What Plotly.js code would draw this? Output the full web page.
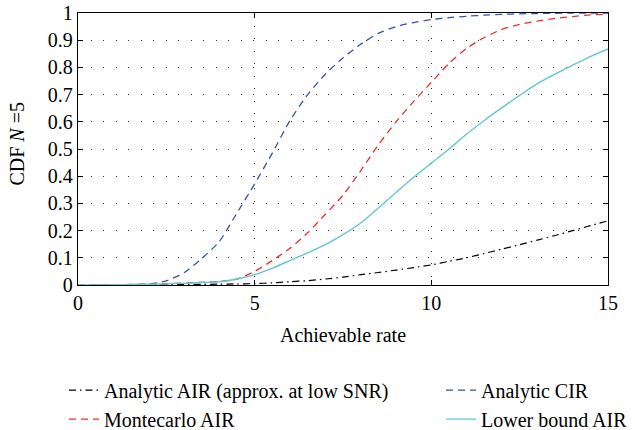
<!DOCTYPE html>
<html>
<head>
<meta charset="utf-8">
<script src="https://cdn.plot.ly/plotly-3.0.1.min.js"></script>
<style>html,body{margin:0;padding:0;background:#fff;}#chart{width:635px;height:430px;}</style>
</head>
<body>
<div id="chart"></div>
<script>
var rate = [0, 0.5, 1, 1.5, 2, 2.5, 3, 3.5, 4, 4.5, 5, 5.5, 6, 6.5, 7, 7.5, 8, 8.5, 9, 9.5, 10, 10.5, 11, 11.5, 12, 12.5, 13, 13.5, 14, 14.5, 15];
var analyticAIR = [0, 0, 0, 0, 0.001, 0.001, 0.002, 0.002, 0.003, 0.004, 0.005, 0.008, 0.012, 0.016, 0.022, 0.029, 0.038, 0.046, 0.055, 0.064, 0.074, 0.087, 0.100, 0.116, 0.132, 0.148, 0.165, 0.182, 0.200, 0.218, 0.236];
var analyticCIR = [0, 0, 0, 0.001, 0.004, 0.015, 0.045, 0.097, 0.160, 0.265, 0.372, 0.485, 0.605, 0.700, 0.775, 0.835, 0.885, 0.925, 0.950, 0.965, 0.976, 0.983, 0.988, 0.992, 0.995, 0.997, 0.998, 0.999, 1, 1, 1];
var montecarloAIR = [0, 0, 0.001, 0.002, 0.003, 0.005, 0.007, 0.010, 0.013, 0.022, 0.050, 0.090, 0.135, 0.192, 0.260, 0.330, 0.420, 0.515, 0.600, 0.675, 0.745, 0.815, 0.870, 0.910, 0.940, 0.958, 0.970, 0.980, 0.987, 0.993, 0.996];
var lowerBoundAIR = [0, 0, 0.001, 0.002, 0.003, 0.004, 0.006, 0.009, 0.012, 0.022, 0.038, 0.062, 0.090, 0.118, 0.148, 0.185, 0.228, 0.283, 0.340, 0.396, 0.448, 0.500, 0.555, 0.605, 0.652, 0.697, 0.740, 0.775, 0.808, 0.840, 0.868];
var seriesNames = ["Analytic AIR (approx. at low SNR)", "Analytic CIR", "Montecarlo AIR", "Lower bound AIR"];
var xTicks = [0, 5, 10, 15];
var yTicks = [0, 0.1, 0.2, 0.3, 0.4, 0.5, 0.6, 0.7, 0.8, 0.9, 1];
var yTickText = ["0", "0.1", "0.2", "0.3", "0.4", "0.5", "0.6", "0.7", "0.8", "0.9", "1"];
var yTitle = "CDF <i>N</i> =5";
var xTitle = "Achievable rate";

var FONT = "Liberation Serif, Times New Roman, serif";
var FS = 20;

function tr(y, name, color, dash, width, legendId) {
  return {x: rate, y: y, name: name, type: "scatter", mode: "lines",
          line: {color: color, dash: dash, width: width, shape: "spline", smoothing: 0.6},
          legend: legendId, cliponaxis: true};
}

var data = [
  tr(analyticAIR, seriesNames[0], "#000000", "7px,4px,1.5px,4px", 1.2, "legend"),
  tr(analyticCIR, seriesNames[1], "#3352a8", "7px,5px", 1.3, "legend2"),
  tr(montecarloAIR, seriesNames[2], "#ee2c2c", "7px,5px", 1.3, "legend"),
  tr(lowerBoundAIR, seriesNames[3], "#62c6d4", "solid", 1.4, "legend2")
];

function leg(xpx) {
  return {
    orientation: "v", x: xpx / 635, xref: "container", xanchor: "left",
    y: 0.138, yref: "container", yanchor: "top",
    font: {family: FONT, size: FS, color: "#000"},
    bgcolor: "rgba(0,0,0,0)", tracegroupgap: 0
  };
}

var layout = {
  width: 635, height: 430,
  margin: {l: 78, r: 27, t: 13, b: 145, autoexpand: false},
  paper_bgcolor: "#fff", plot_bgcolor: "#fff",
  font: {family: FONT, size: FS, color: "#000"},
  showlegend: true,
  legend: leg(64),
  legend2: leg(441),
  xaxis: {
    range: [0, 15], tickvals: xTicks, ticktext: xTicks.map(String),
    ticks: "inside", ticklen: 5, tickcolor: "#000", tickwidth: 1,
    showline: true, linecolor: "#000", linewidth: 1.3, mirror: "ticks",
    showgrid: true, gridcolor: "#333", griddash: "1px,11.5px", gridwidth: 1,
    zeroline: false, tickfont: {family: FONT, size: FS},
    title: {text: xTitle, font: {family: FONT, size: FS}, standoff: 14}
  },
  yaxis: {
    range: [0, 1], tickvals: yTicks, ticktext: yTickText,
    ticks: "inside", ticklen: 5, tickcolor: "#000", tickwidth: 1,
    showline: true, linecolor: "#000", linewidth: 1.3, mirror: "ticks",
    showgrid: true, gridcolor: "#333", griddash: "1px,11.5px", gridwidth: 1,
    zeroline: false, tickfont: {family: FONT, size: FS}
  },
  annotations: [{
    text: yTitle, xref: "paper", yref: "paper", x: -0.115, y: 0.52,
    xanchor: "center", yanchor: "middle", textangle: -90, showarrow: false,
    font: {family: FONT, size: FS, color: "#000"}
  }]
};

Plotly.newPlot("chart", data, layout, {displayModeBar: false, staticPlot: true});
</script>
</body>
</html>
